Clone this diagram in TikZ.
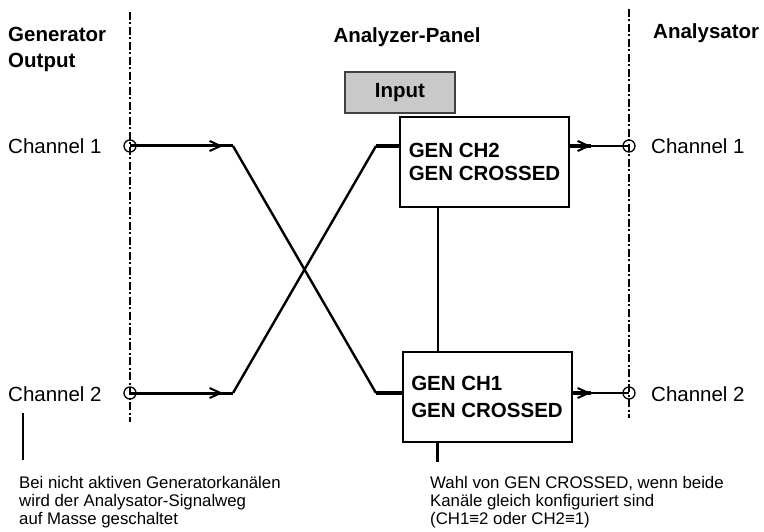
\documentclass[tikz,border=0pt]{standalone}
\usepackage{fontspec}
\setmainfont{Liberation Sans}
\usetikzlibrary{arrows.meta,decorations.markings,calc}
\begin{document}
\begin{tikzpicture}[x=1pt,y=-1pt,
  big/.style={font=\fontsize{20.5}{23}\selectfont, inner sep=0pt},
  bigb/.style={font=\fontsize{20.5}{23}\selectfont\bfseries, inner sep=0pt},
  note/.style={font=\fontsize{16.8}{18}\selectfont, inner sep=0pt, align=left, anchor=north west},
  port/.style={circle, draw, line width=1.3pt, minimum size=12pt, inner sep=0pt},
  selbox/.style={draw, line width=2pt, minimum width=169pt, minimum height=90pt, align=left,
    font=\fontsize{20.5}{23}\selectfont\bfseries, inner sep=0pt},
  sepline/.style={line width=2pt, dash pattern=on 8pt off 2.5pt on 2pt off 2.5pt},
  wire/.style={line width=2.4pt},
  inwire/.style={line width=3pt},
  fat/.style={line width=4.2pt},
  tipat/.style={postaction=decorate, decoration={markings,
    mark=at position #1 with {\arrow{Straight Barb[length=11pt,width=10pt,line width=2pt]}}}}
]
\useasboundingbox (0,0) rectangle (764,532);

% headings
\node[bigb, anchor=base west] (hgen) at (8,42) {Generator};
\node[bigb, anchor=base west] (hout) at (8,68) {Output};
\node[bigb, anchor=base] (hpan) at (407,43) {Analyzer-Panel};
\node[bigb, anchor=base west] (hana) at (653,39) {Analysator};

% separator lines
\coordinate (s1t) at (130,12);
\coordinate (s1b) at (130,422);
\coordinate (s2t) at (629,9);
\coordinate (s2b) at (629,418);
\draw[sepline] (s1t) -- (s1b);
\draw[sepline] (s2t) -- (s2b);

% ports
\node[port] (gc1) at (130,146) {};
\node[port] (gc2) at (130,393) {};
\node[port] (ac1) at (629,146) {};
\node[port] (ac2) at (629,393) {};

\node[big, anchor=base west] (lg1) at (8,154) {Channel 1};
\node[big, anchor=base west] (lg2) at (8,401) {Channel 2};
\node[big, anchor=base west] (la1) at (651,154) {Channel 1};
\node[big, anchor=base west] (la2) at (651,401) {Channel 2};

% input box
\node[draw=black!75, line width=1.3pt, fill=gray!42, minimum width=110pt, minimum height=41pt,
  inner sep=0pt, font=\fontsize{20.5}{23}\selectfont\bfseries] (inp) at (400,92.5) {Input};

% selection boxes
\node[selbox] (box1) at (484.5,162) {GEN CH2\\[0pt]GEN CROSSED};
\node[selbox] (box2) at (487,397) {GEN CH1\\[4pt]GEN CROSSED};

% crossing wires
\coordinate (k1) at (233,146);
\coordinate (k2) at (376,393);
\coordinate (k3) at (233,393);
\coordinate (k4) at (376,146);
\draw[inwire, tipat=93pt] (gc1.center) -- (k1);
\draw[inwire, tipat=93pt] (gc2.center) -- (k3);
\draw[wire, line join=round] (k1) -- (k2);
\draw[wire, line join=round] (k3) -- (k4);
\draw[fat] (k2) -- (k2 -| box2.west);
\draw[fat] (k4) -- (k4 -| box1.west);

% outputs
\coordinate (o1) at (591,146);
\coordinate (o2) at (591,393);
\draw[line width=3.6pt, tipat=1] (ac1 -| box1.east) -- (o1);
\draw[wire] (o1) -- (ac1.center);
\draw[line width=3.6pt, tipat=1] (ac2 -| box2.east) -- (o2);
\draw[wire] (o2) -- (ac2.center);

% link between boxes
\coordinate (c1) at ($(box1.south west)+(39,0)$);
\draw[wire] (c1) -- (c1 |- box2.north);

% annotations
\coordinate (n1t) at (23,413);
\coordinate (n1b) at (23,460);
\draw[wire] (n1t) -- (n1b);
\coordinate (n2t) at ($(box2.south west)+(36,0)$);
\coordinate (n2b) at ($(n2t)+(0,19)$);
\draw[wire] (n2t) -- (n2b);

\node[note] (t1) at (19,476.5) {Bei nicht aktiven Generatorkanälen\\wird der Analysator-Signalweg\\auf Masse geschaltet};
\node[note] (t2) at (430,476) {Wahl von GEN CROSSED, wenn beide\\Kanäle gleich konfiguriert sind\\(CH1≡2 oder CH2≡1)};
\end{tikzpicture}
\end{document}
